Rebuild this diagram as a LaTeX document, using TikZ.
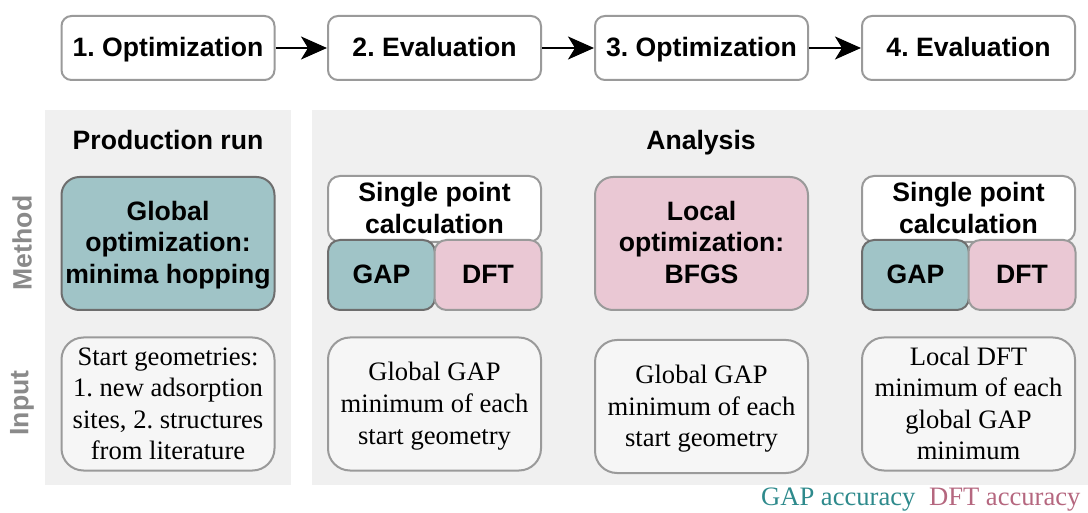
\documentclass[tikz,border=0pt]{standalone}
\usepackage{fontspec}
\setmainfont{Liberation Serif}
\newfontfamily\hsans{Liberation Sans}
\usetikzlibrary{arrows.meta}
\frenchspacing
\definecolor{panelgray}{HTML}{F0F0F0}
\definecolor{inputfill}{HTML}{F6F6F6}
\definecolor{bordergray}{HTML}{9A9A9A}
\definecolor{darkborder}{HTML}{6E6E6E}
\definecolor{gapfill}{HTML}{A0C4C7}
\definecolor{dftfill}{HTML}{EAC8D4}
\definecolor{gaptext}{HTML}{2E8A8C}
\definecolor{dfttext}{HTML}{B5677F}
\definecolor{labelgray}{HTML}{8A8A8A}
\newcommand{\fst}{\rule{0pt}{24pt}}
\newcommand{\lst}{\rule[-7pt]{0pt}{7pt}}
\tikzset{
  bfont/.style={font=\hsans\bfseries\fontsize{26.6}{31.5}\selectfont},
  sfont/.style={font=\fontsize{26.6}{31.6}\selectfont},
  stagebox/.style={draw=bordergray, line width=2pt, fill=white, rounded corners=10pt,
    minimum width=213, minimum height=64, inner sep=0pt, bfont},
  bigbox/.style={line width=2pt, rounded corners=18pt, minimum width=213, minimum height=133,
    inner sep=0pt, align=center, bfont},
  halfbox/.style={line width=2pt, rounded corners=12pt, minimum width=107, minimum height=70,
    inner sep=0pt, bfont},
  spbox/.style={draw=bordergray, fill=white, line width=2pt, rounded corners=12pt,
    minimum width=213, minimum height=66, inner sep=0pt, align=center, bfont},
  inbox/.style={draw=bordergray, fill=inputfill, line width=2pt, rounded corners=22pt,
    minimum width=213, minimum height=133, inner sep=0pt, align=center, sfont},
  panel/.style={fill=panelgray, draw=none},
  flow/.style={line width=2pt, -{Stealth[length=26pt,width=23pt,inset=7pt]}},
  sidelabel/.style={rotate=90, text=labelgray, bfont}
}
\begin{document}
\begin{tikzpicture}[x=1pt,y=-1pt]
\useasboundingbox (0,0) rectangle (1088,513);
% panels
\fill[panel] (45,110) rectangle (291,485);
\fill[panel] (312,110) rectangle (1088,485);
% stage boxes
\node[stagebox] (s1) at (168,48) {\fst\lst 1. Optimization};
\node[stagebox] (s2) at (434.5,48) {\fst\lst 2. Evaluation};
\node[stagebox] (s3) at (701.5,48) {\fst\lst 3. Optimization};
\node[stagebox] (s4) at (968.5,48) {\fst\lst 4. Evaluation};
\draw[flow] (s1) -- (s2);
\draw[flow] (s2) -- (s3);
\draw[flow] (s3) -- (s4);
% headings
\node[bfont, anchor=base] (prod) at (168,150) {Production run};
\node[bfont, anchor=base] (anal) at (701,150) {Analysis};
% side labels
\node[sidelabel] (meth) at (22,243) {Method};
\node[sidelabel] (inp) at (22,403) {Input};
% method row
\node[bigbox, draw=darkborder, fill=gapfill] (m1) at (168,243.5) {\fst Global\\optimization:\\minima hopping\lst};
\node[spbox] (sp2) at (434.5,209) {\fst Single point\\calculation\lst};
\node[halfbox, draw=darkborder, fill=gapfill] (g2) at (381.5,275) {\fst\lst GAP};
\node[halfbox, draw=bordergray, fill=dftfill] (d2) at (488,275) {\fst\lst DFT};
\node[bigbox, draw=bordergray, fill=dftfill] (m3) at (701.5,243.5) {\fst Local\\optimization:\\BFGS\lst};
\node[spbox] (sp4) at (968.5,209) {\fst Single point\\calculation\lst};
\node[halfbox, draw=darkborder, fill=gapfill] (g4) at (915.5,275) {\fst\lst GAP};
\node[halfbox, draw=bordergray, fill=dftfill] (d4) at (1022,275) {\fst\lst DFT};
% input row
\node[inbox] (i1) at (168,404) {\fst Start geometries:\\1. new adsorption\\sites, 2. structures\\from literature\lst};
\node[inbox] (i2) at (434.5,404) {\fst Global GAP\\minimum of each\\start geometry\lst};
\node[inbox] (i3) at (701.5,406.5) {\fst Global GAP\\minimum of each\\start geometry\lst};
\node[inbox] (i4) at (968.5,404) {\fst Local DFT\\minimum of each\\global GAP\\minimum\lst};
% legend
\node[sfont, text=gaptext, anchor=base east] (lg) at (919,505) {GAP accuracy};
\node[sfont, text=dfttext, anchor=base east] (ld) at (1084,505) {DFT accuracy};
\end{tikzpicture}
\end{document}
